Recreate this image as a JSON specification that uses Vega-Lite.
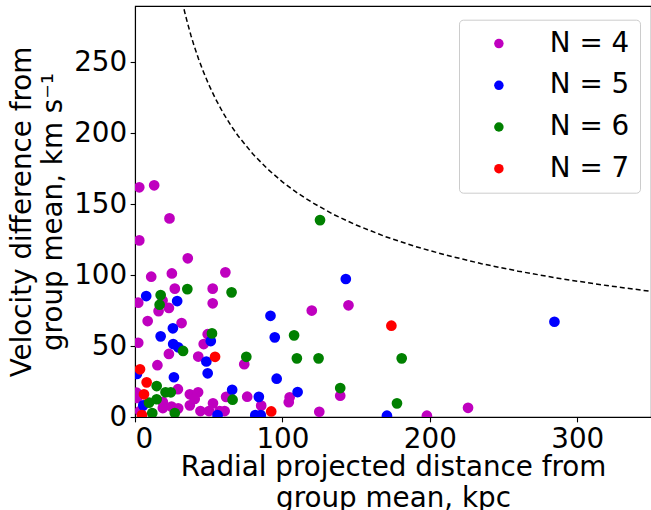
{
  "$schema": "https://vega.github.io/schema/vega-lite/v6.json",
  "width": 516,
  "height": 411,
  "autosize": {"type": "none"},
  "padding": {"left": 135, "top": 6, "right": 0, "bottom": 93},
  "config": {
    "font": "DejaVu Sans",
    "view": {"stroke": "black", "strokeWidth": 1.1},
    "axis": {
      "grid": false,
      "domainColor": "black",
      "tickColor": "black",
      "labelColor": "black",
      "titleColor": "black",
      "labelFont": "DejaVu Sans",
      "titleFont": "DejaVu Sans",
      "labelFontSize": 27.78,
      "titleFontSize": 27.78,
      "titleFontWeight": "normal",
      "tickSize": 4.86,
      "labelPadding": 3.5,
      "domainWidth": 1.1,
      "tickWidth": 1.1,
      "titleLineHeight": 31.5
    }
  },
  "datasets": {
    "curve": [
      {"r": 32, "v": 292.7}, {"r": 34, "v": 284.0}, {"r": 36, "v": 276.0}, {"r": 38, "v": 268.6},
      {"r": 40, "v": 261.8}, {"r": 43, "v": 252.5}, {"r": 46, "v": 244.2}, {"r": 50, "v": 234.2},
      {"r": 55, "v": 223.3}, {"r": 60, "v": 213.8}, {"r": 65, "v": 205.4}, {"r": 70, "v": 197.9},
      {"r": 80, "v": 185.2}, {"r": 90, "v": 174.6}, {"r": 100, "v": 165.6}, {"r": 110, "v": 157.9},
      {"r": 120, "v": 151.2}, {"r": 135, "v": 142.5}, {"r": 150, "v": 135.2}, {"r": 170, "v": 127.0},
      {"r": 190, "v": 120.1}, {"r": 210, "v": 114.3}, {"r": 235, "v": 108.0}, {"r": 260, "v": 102.7},
      {"r": 290, "v": 97.2}, {"r": 320, "v": 92.6}, {"r": 350, "v": 88.5}
    ],
    "pts": [
      {"N": "N = 4", "r": 2.9, "v": 161.8}, {"N": "N = 4", "r": 13.0, "v": 163.2}, {"N": "N = 4", "r": 23.4, "v": 139.9},
      {"N": "N = 4", "r": 2.9, "v": 124.4}, {"N": "N = 4", "r": 35.8, "v": 111.8}, {"N": "N = 4", "r": 11.0, "v": 98.8},
      {"N": "N = 4", "r": 25.0, "v": 101.1}, {"N": "N = 4", "r": 61.3, "v": 101.9}, {"N": "N = 4", "r": 27.0, "v": 90.4},
      {"N": "N = 4", "r": 52.7, "v": 90.4}, {"N": "N = 4", "r": 2.2, "v": 80.5}, {"N": "N = 4", "r": 18.7, "v": 82.0},
      {"N": "N = 4", "r": 52.7, "v": 80.1}, {"N": "N = 4", "r": 16.0, "v": 74.6}, {"N": "N = 4", "r": 23.0, "v": 76.8},
      {"N": "N = 4", "r": 8.6, "v": 67.6}, {"N": "N = 4", "r": 31.6, "v": 66.2}, {"N": "N = 4", "r": 2.2, "v": 52.3},
      {"N": "N = 4", "r": 49.3, "v": 58.3}, {"N": "N = 4", "r": 46.6, "v": 51.4}, {"N": "N = 4", "r": 23.0, "v": 44.4},
      {"N": "N = 4", "r": 42.9, "v": 42.6}, {"N": "N = 4", "r": 74.1, "v": 37.2}, {"N": "N = 4", "r": 15.2, "v": 36.5},
      {"N": "N = 4", "r": 29.1, "v": 19.6}, {"N": "N = 4", "r": 1.1, "v": 17.1}, {"N": "N = 4", "r": 37.2, "v": 16.0},
      {"N": "N = 4", "r": 42.8, "v": 17.4}, {"N": "N = 4", "r": 18.9, "v": 10.6}, {"N": "N = 4", "r": 18.9, "v": 6.3},
      {"N": "N = 4", "r": 24.8, "v": 7.3}, {"N": "N = 4", "r": 29.3, "v": 6.1}, {"N": "N = 4", "r": 37.2, "v": 8.2},
      {"N": "N = 4", "r": 52.9, "v": 9.6}, {"N": "N = 4", "r": 57.4, "v": 4.2}, {"N": "N = 4", "r": 44.4, "v": 4.2},
      {"N": "N = 4", "r": 50.2, "v": 4.2}, {"N": "N = 4", "r": 60.8, "v": 4.2}, {"N": "N = 4", "r": 61.8, "v": 14.2},
      {"N": "N = 4", "r": 76.1, "v": 14.3}, {"N": "N = 4", "r": 85.6, "v": 8.0}, {"N": "N = 4", "r": 104.9, "v": 13.9},
      {"N": "N = 4", "r": 104.3, "v": 10.4}, {"N": "N = 4", "r": 119.9, "v": 75.0}, {"N": "N = 4", "r": 125.0, "v": 3.7},
      {"N": "N = 4", "r": 144.8, "v": 78.7}, {"N": "N = 4", "r": 139.2, "v": 15.0}, {"N": "N = 4", "r": 225.9, "v": 6.5},
      {"N": "N = 4", "r": 198.0, "v": 0.9}, {"N": "N = 4", "r": 1.4, "v": 13.4}, {"N": "N = 4", "r": 3.4, "v": 4.2},
      {"N": "N = 4", "r": 40.5, "v": 12.7},
      {"N": "N = 5", "r": 7.6, "v": 85.2}, {"N": "N = 5", "r": 28.6, "v": 81.7}, {"N": "N = 5", "r": 25.7, "v": 62.5},
      {"N": "N = 5", "r": 17.4, "v": 56.8}, {"N": "N = 5", "r": 51.4, "v": 53.5}, {"N": "N = 5", "r": 25.9, "v": 51.4},
      {"N": "N = 5", "r": 29.3, "v": 49.1}, {"N": "N = 5", "r": 48.4, "v": 39.1}, {"N": "N = 5", "r": 1.3, "v": 30.3},
      {"N": "N = 5", "r": 49.3, "v": 30.8}, {"N": "N = 5", "r": 26.4, "v": 28.0}, {"N": "N = 5", "r": 65.9, "v": 19.2},
      {"N": "N = 5", "r": 84.0, "v": 14.2}, {"N": "N = 5", "r": 81.6, "v": 1.3}, {"N": "N = 5", "r": 85.3, "v": 1.3},
      {"N": "N = 5", "r": 56.0, "v": 1.3}, {"N": "N = 5", "r": 5.6, "v": 8.2}, {"N": "N = 5", "r": 110.3, "v": 17.6},
      {"N": "N = 5", "r": 96.1, "v": 27.0}, {"N": "N = 5", "r": 94.8, "v": 56.1}, {"N": "N = 5", "r": 91.9, "v": 71.3},
      {"N": "N = 5", "r": 143.0, "v": 97.2}, {"N": "N = 5", "r": 170.9, "v": 0.9}, {"N": "N = 5", "r": 284.5, "v": 67.1},
      {"N": "N = 6", "r": 35.5, "v": 90.1}, {"N": "N = 6", "r": 65.5, "v": 87.8}, {"N": "N = 6", "r": 17.4, "v": 85.9},
      {"N": "N = 6", "r": 16.7, "v": 79.1}, {"N": "N = 6", "r": 52.2, "v": 58.9}, {"N": "N = 6", "r": 32.6, "v": 46.5},
      {"N": "N = 6", "r": 75.5, "v": 42.4}, {"N": "N = 6", "r": 14.7, "v": 21.8}, {"N": "N = 6", "r": 20.7, "v": 17.4},
      {"N": "N = 6", "r": 24.3, "v": 17.4}, {"N": "N = 6", "r": 14.7, "v": 12.5}, {"N": "N = 6", "r": 9.5, "v": 10.1},
      {"N": "N = 6", "r": 11.7, "v": 2.7}, {"N": "N = 6", "r": 27.0, "v": 2.8}, {"N": "N = 6", "r": 66.2, "v": 12.2},
      {"N": "N = 6", "r": 109.8, "v": 41.3}, {"N": "N = 6", "r": 124.5, "v": 41.3}, {"N": "N = 6", "r": 107.9, "v": 57.5},
      {"N": "N = 6", "r": 125.5, "v": 138.7}, {"N": "N = 6", "r": 139.2, "v": 20.4}, {"N": "N = 6", "r": 180.9, "v": 41.3},
      {"N": "N = 6", "r": 177.7, "v": 9.6},
      {"N": "N = 7", "r": 54.3, "v": 42.4}, {"N": "N = 7", "r": 3.4, "v": 33.6}, {"N": "N = 7", "r": 7.9, "v": 24.4},
      {"N": "N = 7", "r": 6.1, "v": 16.0}, {"N": "N = 7", "r": 4.7, "v": 1.4}, {"N": "N = 7", "r": 92.4, "v": 3.9},
      {"N": "N = 7", "r": 173.9, "v": 64.3}
    ]
  },
  "encoding": {
    "x": {
      "field": "r",
      "type": "quantitative",
      "scale": {"domain": [0, 350], "nice": false, "zero": false},
      "axis": {"values": [0, 100, 200, 300], "title": ["Radial projected distance from", "group mean, kpc"], "titlePadding": 0}
    },
    "y": {
      "field": "v",
      "type": "quantitative",
      "scale": {"domain": [0, 289.5], "nice": false, "zero": false},
      "axis": {"values": [0, 50, 100, 150, 200, 250], "title": ["Velocity difference from", "group mean, km s⁻¹"], "titlePadding": 6}
    }
  },
  "layer": [
    {
      "data": {"name": "curve"},
      "mark": {"type": "line", "color": "black", "strokeDash": [5, 3], "strokeWidth": 1.5, "clip": true}
    },
    {
      "data": {"name": "pts"},
      "mark": {"type": "point", "filled": true, "opacity": 1, "size": 115, "clip": true},
      "encoding": {
        "color": {
          "field": "N",
          "type": "nominal",
          "scale": {"domain": ["N = 4", "N = 5", "N = 6", "N = 7"], "range": ["#bf00bf", "#0000ff", "#008000", "#ff0000"]},
          "legend": {
            "title": null,
            "orient": "none",
            "legendX": 324,
            "legendY": 13.7,
            "labelFont": "DejaVu Sans",
            "labelFontSize": 27.78,
            "labelColor": "black",
            "symbolType": "circle",
            "symbolSize": 90,
            "symbolStrokeWidth": 0,
            "padding": 10,
            "rowPadding": 12.7,
            "symbolOffset": 16,
            "labelOffset": 37,
            "strokeColor": "#cccccc",
            "fillColor": "white",
            "cornerRadius": 4
          }
        }
      }
    }
  ]
}
